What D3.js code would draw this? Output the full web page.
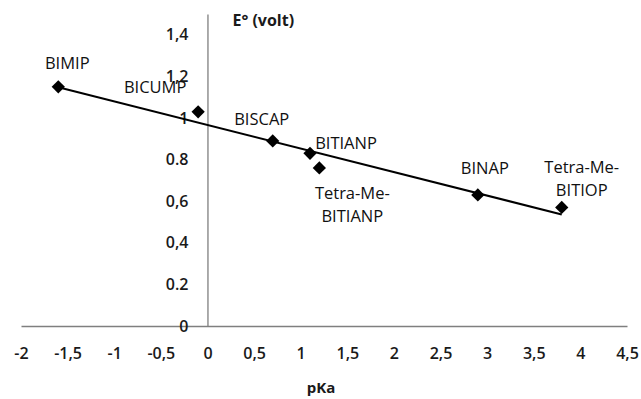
<!DOCTYPE html>
<html><head><meta charset="utf-8">
<script src="https://cdn.jsdelivr.net/npm/d3@7"></script>
<style>body{margin:0;background:#fff}svg{display:block}</style>
</head><body>
<svg id="c" width="641" height="399"></svg>
<script>
const compounds = ["BIMIP","BICUMP","BISCAP","BITIANP","Tetra-Me-BITIANP","BINAP","Tetra-Me-BITIOP"];
const pKa = [-1.6,-0.1,0.7,1.1,1.2,2.9,3.8];
const E0 = [1.15,1.03,0.89,0.83,0.76,0.63,0.57];
const xTicks = [-2,-1.5,-1,-0.5,0,0.5,1,1.5,2,2.5,3,3.5,4,4.5];
const xTickLabels = ["-2","-1,5","-1","-0,5","0","0,5","1","1,5","2","2,5","3","3,5","4","4,5"];
const yTicks = [0,0.2,0.4,0.6,0.8,1,1.2,1.4];
const yTickLabels = ["0","0.2","0,4","0,6","0.8","1","1,2","1,4"];

// label placement (offsets from marker, px)
const labelLayout = {
  "BIMIP": {lines:["BIMIP"], dx:9, dy:-24},
  "BICUMP": {lines:["BICUMP"], dx:-43, dy:-25},
  "BISCAP": {lines:["BISCAP"], dx:-11, dy:-22},
  "BITIANP": {lines:["BITIANP"], dx:36, dy:-11},
  "Tetra-Me-BITIANP": {lines:["Tetra-Me-","BITIANP"], dx:33, dy:25},
  "BINAP": {lines:["BINAP"], dx:7, dy:-27},
  "Tetra-Me-BITIOP": {lines:["Tetra-Me-","BITIOP"], dx:20, dy:-41}
};

const svg = d3.select("#c");
const font = "'Open Sans', sans-serif";
const x = d3.scaleLinear().domain([-2,4.5]).range([21,627]);
const y = d3.scaleLinear().domain([0,1.5]).range([326,14]);

// x axis
const gx = svg.append("g").attr("transform",`translate(0,${y(0)})`)
  .call(d3.axisBottom(x).tickValues(xTicks).tickSize(0).tickPadding(20)
    .tickFormat((d,i)=>xTickLabels[i]));
gx.select(".domain").attr("stroke","#7f7f7f").attr("stroke-width",1.3);
gx.selectAll("text").attr("font-family",font).attr("font-size",16).attr("font-weight",600)
  .attr("fill","#1a1a1a").attr("dy","0.35em").attr("y",27);

// y axis
const gy = svg.append("g").attr("transform",`translate(${x(0)},0)`)
  .call(d3.axisLeft(y).tickValues(yTicks).tickSize(0).tickPadding(19)
    .tickFormat((d,i)=>yTickLabels[i]));
gy.select(".domain").attr("stroke","#7f7f7f").attr("stroke-width",1.3);
gy.selectAll("text").attr("font-family",font).attr("font-size",16).attr("font-weight",600)
  .attr("fill","#1a1a1a");

// axis titles
svg.append("text").attr("x",x(0)+25).attr("y",20).attr("dominant-baseline","central")
  .attr("font-family",font).attr("font-size",16).attr("font-weight",700).attr("fill","#1a1a1a")
  .text("E° (volt)");
svg.append("text").attr("x",321).attr("y",393).attr("text-anchor","middle")
  .attr("font-family",font).attr("font-size",15).attr("font-weight",700).attr("fill","#1a1a1a")
  .text("pKa");

// linear trendline (least squares over the data)
const n = pKa.length;
const mx = d3.mean(pKa), my = d3.mean(E0);
let sxy=0,sxx=0;
for(let i=0;i<n;i++){sxy+=(pKa[i]-mx)*(E0[i]-my);sxx+=(pKa[i]-mx)**2;}
const slope = sxy/sxx, icpt = my - slope*mx;
const xr = d3.extent(pKa);
svg.append("path")
  .attr("d", d3.line().x(d=>x(d)).y(d=>y(icpt+slope*d))(xr))
  .attr("stroke","#000").attr("stroke-width",2).attr("fill","none");

// markers
const pts = compounds.map((c,i)=>({name:c,x:pKa[i],y:E0[i]}));
svg.append("g").selectAll("path").data(pts).join("path")
  .attr("d", d3.symbol(d3.symbolSquare, 88))
  .attr("transform", d=>`translate(${x(d.x)},${y(d.y)}) rotate(45)`)
  .attr("fill","#000");

// labels
const lg = svg.append("g");
pts.forEach(d=>{
  const L = labelLayout[d.name];
  const t = lg.append("text").attr("text-anchor","middle")
    .attr("font-family",font).attr("font-size",16.5).attr("fill","#111");
  L.lines.forEach((ln,k)=>{
    t.append("tspan").attr("x",x(d.x)+L.dx).attr("y",y(d.y)+L.dy+k*23)
      .attr("dominant-baseline","central").text(ln);
  });
});
</script>
</body></html>
